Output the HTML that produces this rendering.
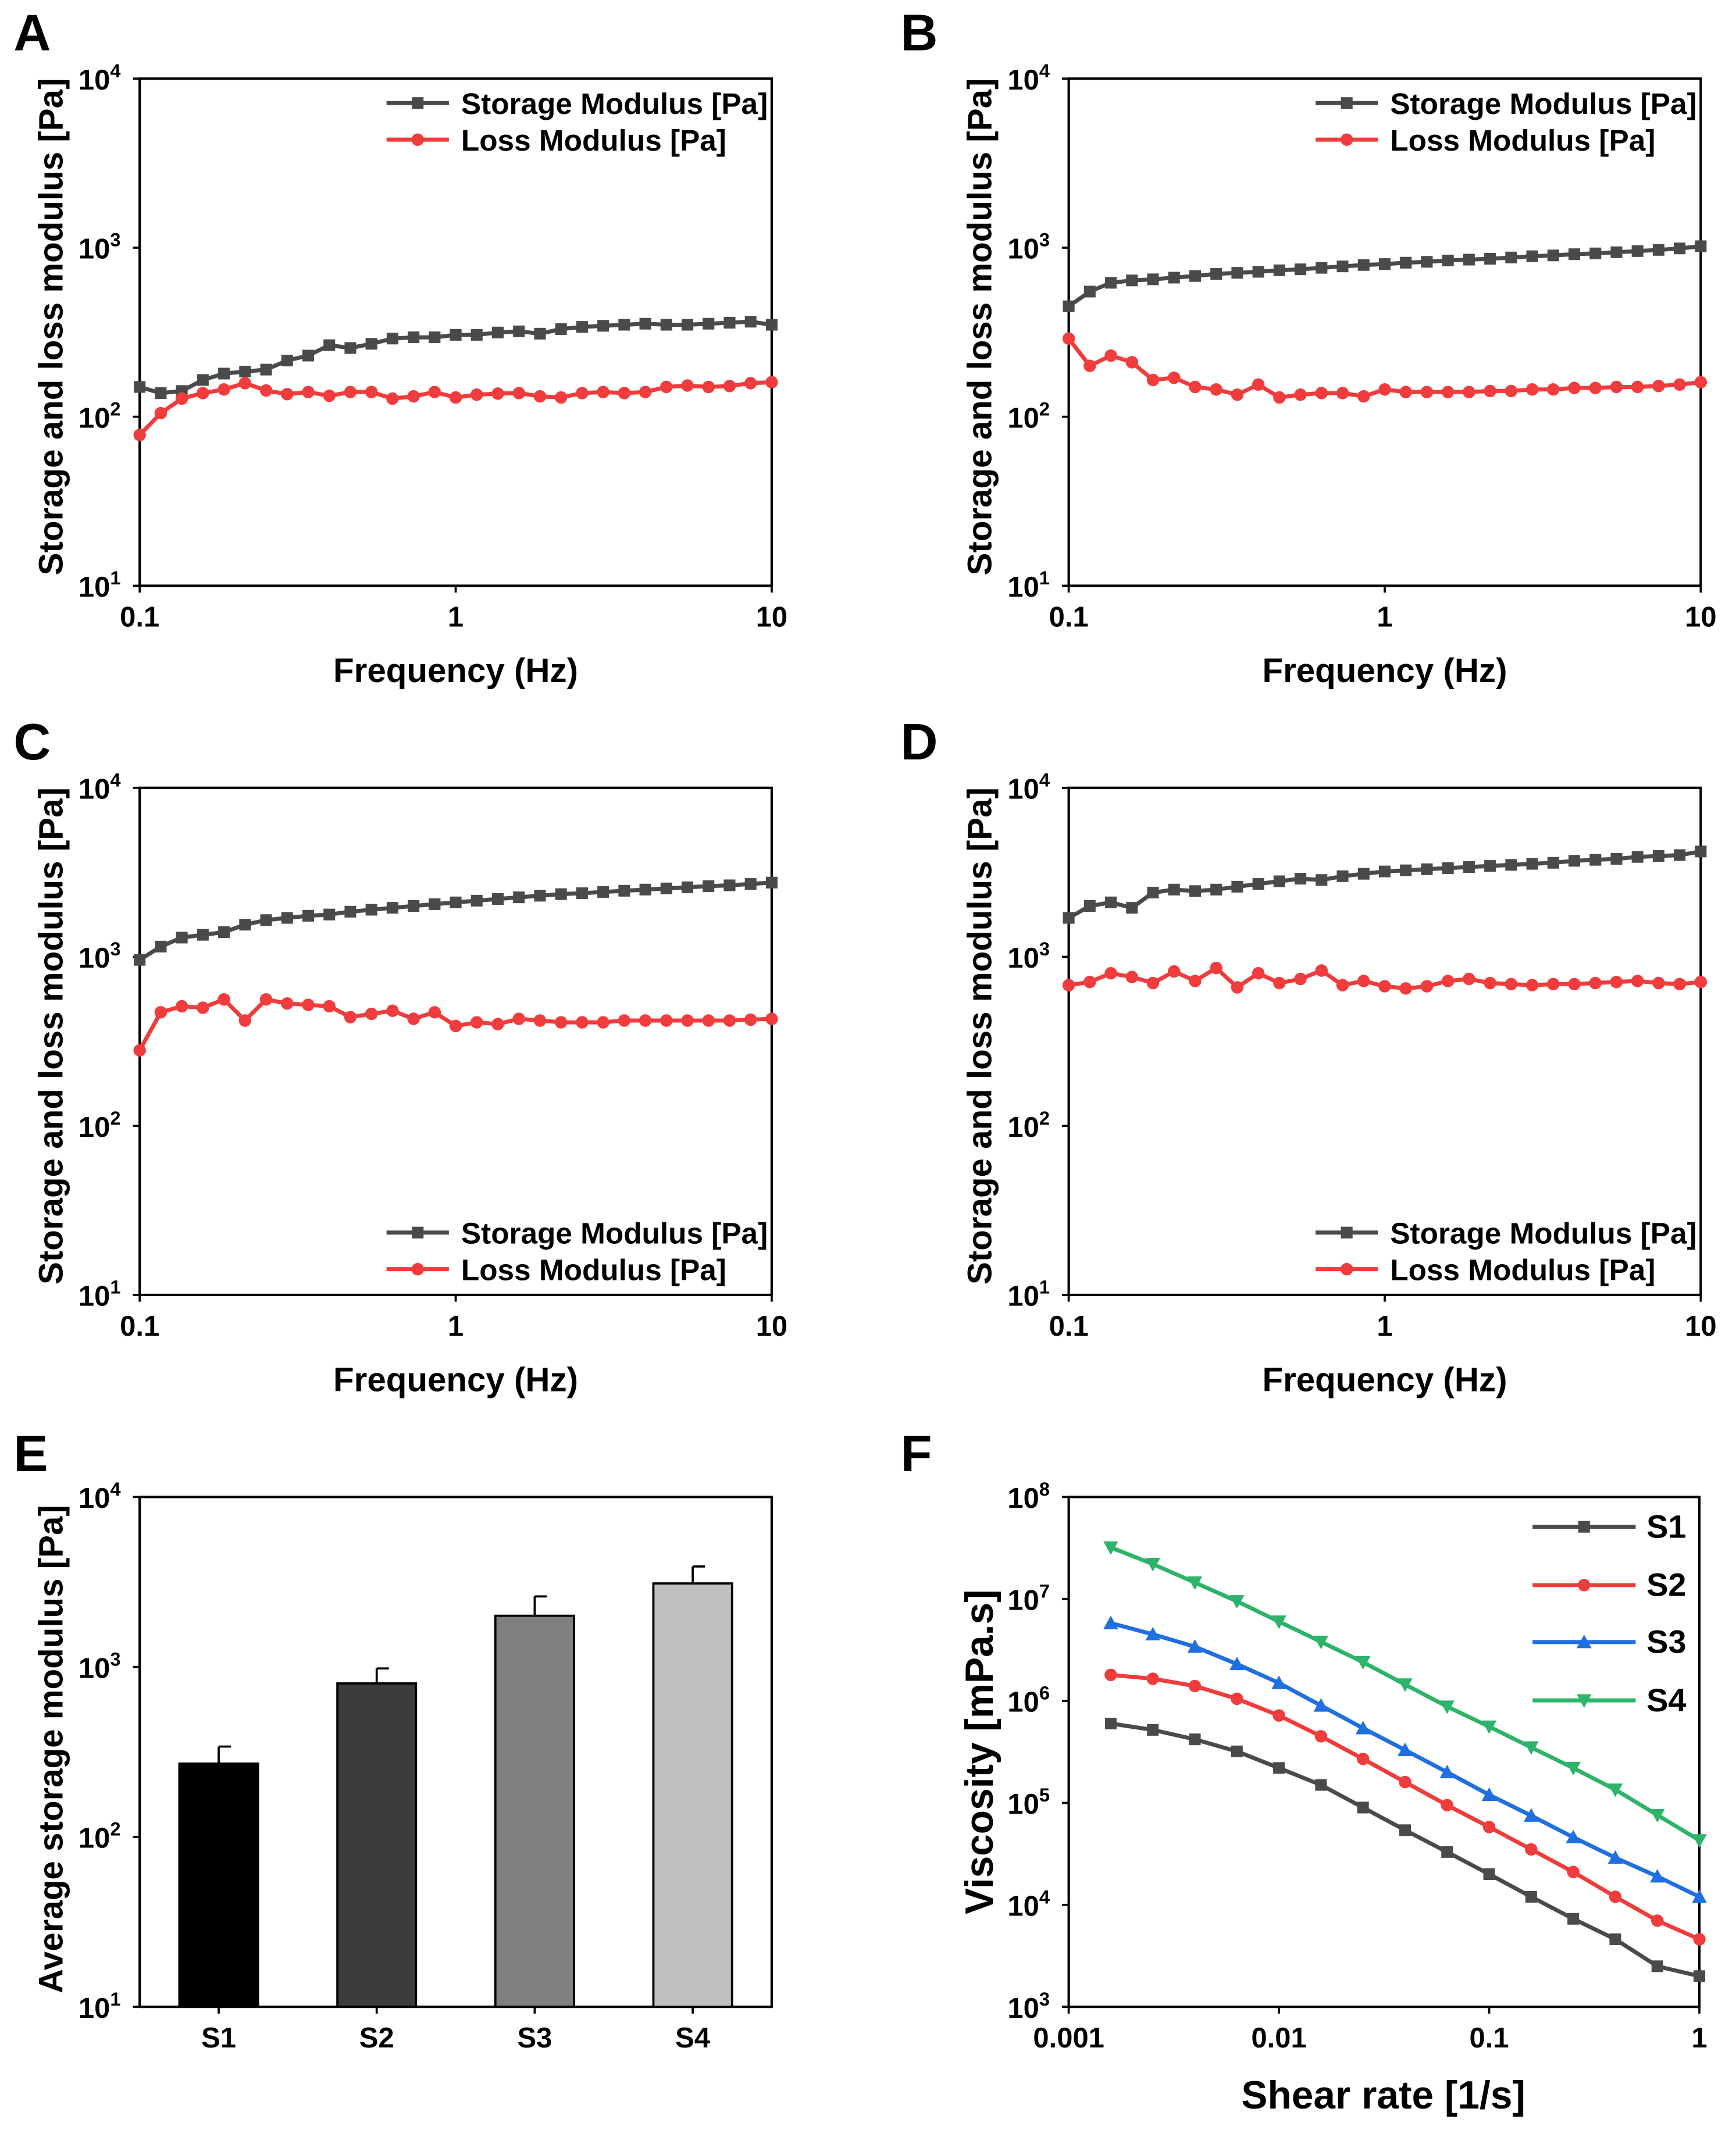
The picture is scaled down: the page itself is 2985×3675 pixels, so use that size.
<!DOCTYPE html>
<html><head><meta charset="utf-8"><style>
html,body{margin:0;padding:0;background:#fff;}
svg{display:block;font-family:"Liberation Sans",Arial,sans-serif;font-weight:bold;}
</style></head><body>
<svg id="fig" width="2985" height="3675" viewBox="0 0 1280 1576" preserveAspectRatio="none" xmlns="http://www.w3.org/2000/svg"></svg>
<script>
const freqN = 31;
const aStorage = [150,138,142,165,180,185,190,215,230,265,255,270,290,295,295,305,305,315,320,310,330,340,345,350,355,350,350,355,360,365,350];
const aLoss = [78,105,128,138,145,158,143,136,140,133,140,140,128,132,140,130,135,137,138,132,130,138,140,138,140,150,153,150,152,158,160];
const bStorage = [450,550,620,640,650,665,680,700,710,720,735,745,760,775,790,800,815,825,840,850,860,875,890,900,915,925,940,955,970,990,1020];
const bLoss = [290,200,230,210,165,170,150,145,135,155,130,135,138,138,132,145,140,140,140,140,142,142,145,145,148,148,150,150,152,155,160];
const cStorage = [960,1150,1300,1350,1400,1550,1650,1700,1750,1780,1850,1900,1950,2000,2050,2100,2150,2200,2250,2300,2350,2380,2420,2460,2500,2540,2580,2620,2650,2700,2750];
const cLoss = [280,470,510,500,560,420,560,530,520,510,440,460,480,430,470,390,410,400,430,420,410,410,410,420,420,420,420,420,420,425,430];
const dStorage = [1700,2000,2100,1950,2400,2500,2450,2500,2600,2700,2800,2900,2850,3000,3100,3200,3250,3300,3350,3400,3450,3500,3550,3600,3700,3750,3800,3900,3950,4000,4200];
const dLoss = [680,710,800,760,700,820,720,860,660,800,700,740,830,680,720,670,650,670,720,740,700,690,680,690,690,700,710,720,700,690,710];
const barCats = ["S1","S2","S3","S4"];
const barVals = [270,800,2000,3100];
const barErr = [340,980,2600,3900];
const barColors = ["#000000","#3c3c3c","#808080","#c0c0c0"];
const shearN = 15;
const visS1 = [6e5,5.2e5,4.2e5,3.2e5,2.2e5,1.5e5,9e4,5.4e4,3.3e4,2e4,1.2e4,7.3e3,4.6e3,2.5e3,2e3];
const visS2 = [1.8e6,1.65e6,1.4e6,1.05e6,7.2e5,4.5e5,2.7e5,1.6e5,9.5e4,5.8e4,3.5e4,2.1e4,1.2e4,7e3,4.6e3];
const visS3 = [5.8e6,4.5e6,3.4e6,2.3e6,1.5e6,9e5,5.4e5,3.3e5,2e5,1.2e5,7.5e4,4.6e4,2.9e4,1.9e4,1.2e4];
const visS4 = [3.2e7,2.2e7,1.45e7,9.5e6,6e6,3.8e6,2.4e6,1.45e6,8.8e5,5.6e5,3.5e5,2.2e5,1.35e5,7.6e4,4.3e4];

const NS="http://www.w3.org/2000/svg";
const svg=document.getElementById('fig');
function el(t,a,p){const e=document.createElementNS(NS,t);for(const k in a)e.setAttribute(k,a[k]);(p||svg).appendChild(e);return e;}
function logScale(d0,d1,r0,r1){return v=>r0+(Math.log10(v)-d0)/(d1-d0)*(r1-r0);}
const GREY="#4a4a4a",RED="#f03c3c",BLUE="#1f6fe0",GREEN="#2db36a";

function marker(g,type,x,y,c){
  let m;
  if(type==='sq') m=el('rect',{x:x-4.3,y:y-4.3,width:8.6,height:8.6,fill:c},g);
  else if(type==='ci') m=el('circle',{cx:x,cy:y,r:4.6,fill:c},g);
  else if(type==='up') m=el('polygon',{points:`${x},${y-5.5} ${x-5.5},${y+4.5} ${x+5.5},${y+4.5}`,fill:c},g);
  else m=el('polygon',{points:`${x},${y+5.5} ${x-5.5},${y-4.5} ${x+5.5},${y-4.5}`,fill:c},g);
  
  
}
function series(g,xs,ys,X,Y,c,type,name){
  const s=el('g',{},g);
  
  
  const pts=xs.map((x,i)=>X(x).toFixed(2)+','+Y(ys[i]).toFixed(2)).join(' ');
  el('polyline',{points:pts,fill:'none',stroke:c,'stroke-width':3,'stroke-linejoin':'round'},s);
  xs.forEach((x,i)=>marker(s,type,X(x),Y(ys[i]),c));
}
function tickText(g,x,y,base,exp,anchor,name){
  const t=el('text',{x:x,y:y,'font-size':21,'text-anchor':anchor,fill:'#000'},g);
  
  
  t.textContent=base;
  if(exp!==null){const s=el('tspan',{dy:-9,'font-size':14},t);s.textContent=exp;}
  return t;
}
function axesFrame(g,x0,y0,x1,y1){
  const r=el('rect',{x:x0,y:y0,width:x1-x0,height:y1-y0,fill:'none',stroke:'#000','stroke-width':1.8},g);
  
  
}
function yLogAxis(g,x0,Y,e0,e1){
  for(let e=e0;e<=e1;e++){
    const y=Y(Math.pow(10,e));
    el('line',{x1:x0-5,y1:y,x2:x0,y2:y,stroke:'#000','stroke-width':1.6},g);
    tickText(g,x0-14,y+8,'10',String(e),'end','y-tick-label');
  }
}
function yTitle(g,x,y,txt,fs){
  const t=el('text',{x:x,y:y,'font-size':fs,'text-anchor':'middle',transform:`rotate(-90 ${x} ${y})`},g);
  
  
  t.textContent=txt;
}
function xTitle(g,x,y,txt,fs){
  const t=el('text',{x:x,y:y,'font-size':fs,'text-anchor':'middle'},g);
  
  
  t.textContent=txt;
}
function letter(x,y,L){
  const t=el('text',{x:x,y:y,'font-size':38});
  
  
  t.textContent=L;
}
function legendEntry(g,x,y,c,type,label,len,tx,fs){
  const lg=el('g',{},g);
  
  
  el('line',{x1:x,y1:y,x2:x+len,y2:y,stroke:c,'stroke-width':3},lg);
  marker(lg,type,x+len/2,y,c);
  const t=el('text',{x:tx,y:y+8,'font-size':fs},lg);
  t.textContent=label;
}

const freqs=[];for(let i=0;i<freqN;i++)freqs.push(Math.pow(10,-1+2*i/(freqN-1)));

function freqPanel(L,ox,oy,st,lo,legTop){
  const g=el('g',{});
  
  
  const x0=ox,x1=ox+466,y0=oy,y1=oy+374;
  const X=logScale(-1,1,x0,x1),Y=logScale(1,4,y1,y0);
  axesFrame(g,x0,y0,x1,y1);
  yLogAxis(g,x0,Y,1,4);
  [[0.1,'0.1'],[1,'1'],[10,'10']].forEach(([v,s])=>{
    const x=X(v);el('line',{x1:x,y1:y1,x2:x,y2:y1+5,stroke:'#000','stroke-width':1.6},g);
    tickText(g,x,y1+30,s,null,'middle','x-tick-label');
  });
  series(g,freqs,st,X,Y,GREY,'sq','storage-modulus-series');
  series(g,freqs,lo,X,Y,RED,'ci','loss-modulus-series');
  yTitle(g,ox-57,oy+183,'Storage and loss modulus [Pa]',25);
  xTitle(g,ox+233,oy+445,'Frequency (Hz)',25);
  const ly=legTop?oy+18:oy+328;
  legendEntry(g,ox+182,ly,GREY,'sq','Storage Modulus [Pa]',46,ox+237,22);
  legendEntry(g,ox+182,ly+27,RED,'ci','Loss Modulus [Pa]',46,ox+237,22);
}
letter(10,37,'A');letter(664,37,'B');letter(10,560,'C');letter(664,560,'D');letter(10,1085,'E');letter(664,1085,'F');
freqPanel('A',103,58,aStorage,aLoss,true);
freqPanel('B',788,58,bStorage,bLoss,true);
freqPanel('C',103,581,cStorage,cLoss,false);
freqPanel('D',788,581,dStorage,dLoss,false);

// Panel E
(function(){
  const g=el('g',{});
  
  
  const x0=103,x1=569,y0=1104,y1=1480;
  const Y=logScale(1,4,y1,y0);
  axesFrame(g,x0,y0,x1,y1);
  yLogAxis(g,x0,Y,1,4);
  const step=(x1-x0)/4;
  barCats.forEach((c,i)=>{
    const cx=x0+step*(i+0.5);
    const b=el('rect',{x:cx-29,y:Y(barVals[i]),width:58,height:y1-Y(barVals[i]),fill:barColors[i],stroke:'#000','stroke-width':1.6},g);
    
    
    const eg=el('g',{},g);
    
    
    el('line',{x1:cx,y1:Y(barVals[i]),x2:cx,y2:Y(barErr[i]),stroke:'#000','stroke-width':1.6},eg);
    el('line',{x1:cx,y1:Y(barErr[i]),x2:cx+9,y2:Y(barErr[i]),stroke:'#000','stroke-width':1.6},eg);
    el('line',{x1:cx,y1:y1,x2:cx,y2:y1+5,stroke:'#000','stroke-width':1.6},g);
    tickText(g,cx,y1+30,c,null,'middle','x-tick-label');
  });
  yTitle(g,46,1290,'Average storage modulus [Pa]',25);
})();

// Panel F
(function(){
  const g=el('g',{});
  
  
  const x0=788,x1=1253,y0=1104,y1=1480;
  const X=logScale(-3,0,x0,x1),Y=logScale(3,8,y1,y0);
  axesFrame(g,x0,y0,x1,y1);
  yLogAxis(g,x0,Y,3,8);
  [[0.001,'0.001'],[0.01,'0.01'],[0.1,'0.1'],[1,'1']].forEach(([v,s])=>{
    const x=X(v);el('line',{x1:x,y1:y1,x2:x,y2:y1+5,stroke:'#000','stroke-width':1.6},g);
    tickText(g,x,y1+30,s,null,'middle','x-tick-label');
  });
  const sr=[];for(let i=0;i<shearN;i++)sr.push(Math.pow(10,-2.8+2.8*i/(shearN-1)));
  series(g,sr,visS1,X,Y,GREY,'sq','series-s1');
  series(g,sr,visS2,X,Y,RED,'ci','series-s2');
  series(g,sr,visS3,X,Y,BLUE,'up','series-s3');
  series(g,sr,visS4,X,Y,GREEN,'dn','series-s4');
  yTitle(g,732,1292,'Viscosity [mPa.s]',29);
  xTitle(g,1020,1555,'Shear rate [1/s]',29);
  legendEntry(g,1130,1126,GREY,'sq','S1',76,1214,24);
  legendEntry(g,1130,1169,RED,'ci','S2',76,1214,24);
  legendEntry(g,1130,1211,BLUE,'up','S3',76,1214,24);
  legendEntry(g,1130,1254,GREEN,'dn','S4',76,1214,24);
})();
</script>
</body></html>
